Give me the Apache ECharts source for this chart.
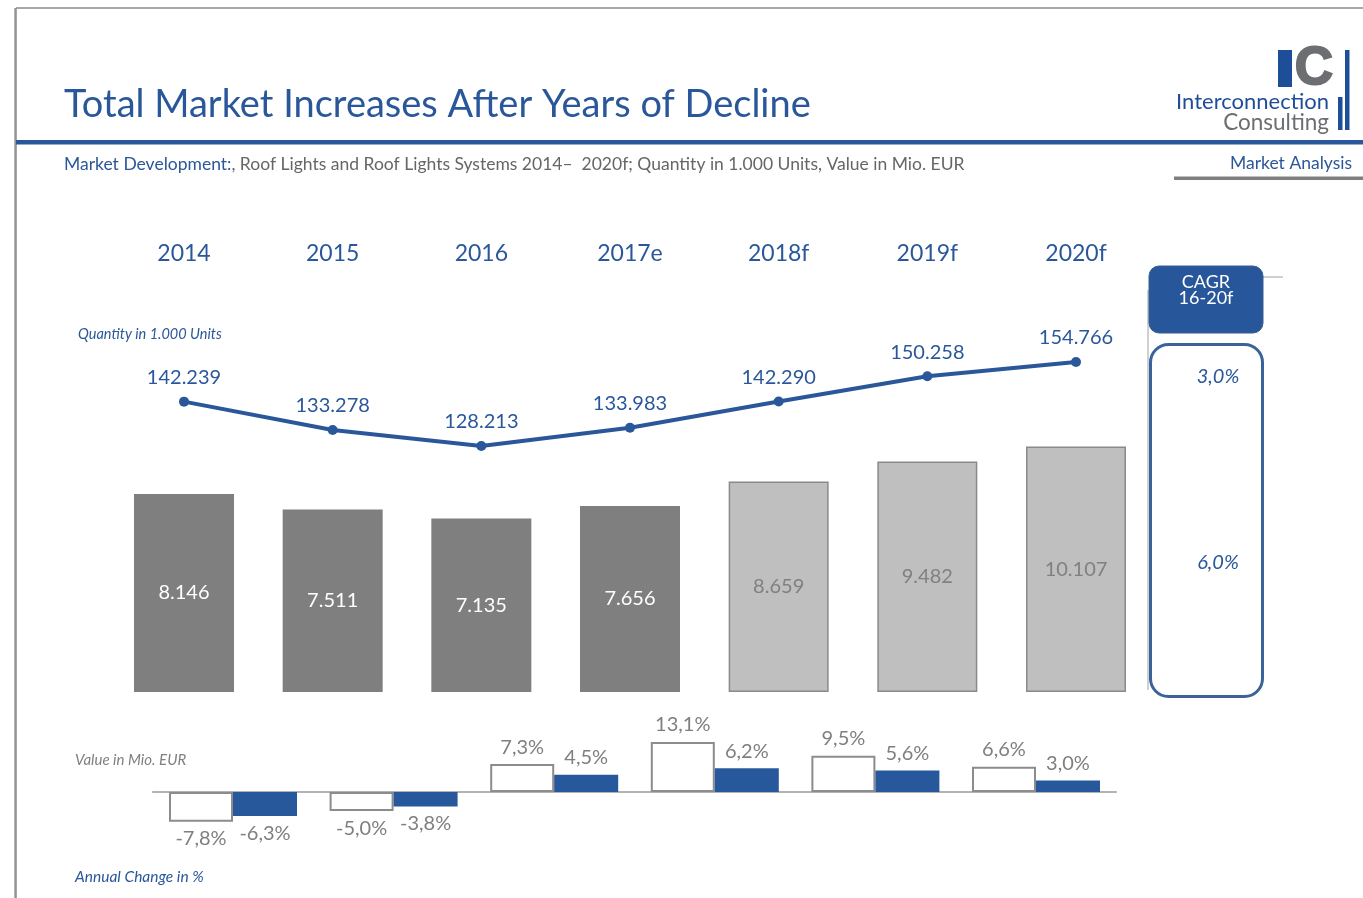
<!DOCTYPE html>
<html><head><meta charset="utf-8">
<script src="https://cdn.jsdelivr.net/npm/echarts@6/dist/echarts.min.js"></script>
<style>html,body{margin:0;padding:0;background:#fff;overflow:hidden}#c{width:1363px;height:898px}</style>
</head><body><div id="c"></div>
<script>
// ---- data ----
const years = ['2014', '2015', '2016', '2017e', '2018f', '2019f', '2020f'];
const valueMioEur = [8.146, 7.511, 7.135, 7.656, 8.659, 9.482, 10.107];
const quantityUnits = [142.239, 133.278, 128.213, 133.983, 142.290, 150.258, 154.766];
const firstForecastIndex = 4;
const changePeriods = ['2015', '2016', '2017e', '2018f', '2019f', '2020f'];
const valueChangePct = [-7.8, -5.0, 7.3, 13.1, 9.5, 6.6];
const quantityChangePct = [-6.3, -3.8, 4.5, 6.2, 5.6, 3.0];
const cagrQuantity = '3,0%';
const cagrValue = '6,0%';

// ---- style ----
const BLUE = '#2a579a';
const GRAY_TXT = '#7f7f7f';
const F = 'Lato';
const pct = v => v.toFixed(1).replace('.', ',') + '%';

const chart = echarts.init(document.getElementById('c'));

const barData = valueMioEur.map((v, i) => ({
  value: v,
  itemStyle: i >= firstForecastIndex
    ? { color: '#bfbfbf', borderColor: '#8a8a8a', borderWidth: 1.5 }
    : { color: '#7f7f7f' },
  label: { color: i >= firstForecastIndex ? '#808080' : '#ffffff' }
}));
const chgLabel = v => ({ value: v, label: { position: v < 0 ? 'bottom' : 'top' } });

chart.setOption({
  animation: false,
  title: [
    { text: 'Total Market Increases After Years of Decline', left: 59, top: 81,
      textStyle: { fontFamily: F, fontSize: 38, fontWeight: 'normal', color: BLUE } },
    { text: '{a|Market Development:}{b|, Roof Lights and Roof Lights Systems 2014–  2020f; Quantity in 1.000 Units, Value in Mio. EUR}',
      left: 59, top: 150,
      textStyle: { fontWeight: 'normal', rich: {
        a: { fontFamily: F, fontSize: 17.5, fontWeight: 'normal', color: BLUE },
        b: { fontFamily: F, fontSize: 17.5, fontWeight: 'normal', color: '#666666' } } } }
  ],
  grid: [
    { left: 109.67, right: 212.67, top: 351.8, height: 340.2 },
    { left: 109.67, right: 212.67, top: 298, height: 205.6 },
    { left: 152.7, right: 246.7, top: 734.7, height: 95.5 }
  ],
  xAxis: [
    { gridIndex: 0, type: 'category', data: years, show: false },
    { gridIndex: 1, type: 'category', data: years, position: 'top',
      axisLine: { show: false }, axisTick: { show: false }, splitLine: { show: false },
      axisLabel: { margin: 33, fontFamily: F, fontSize: 23, color: BLUE } },
    { gridIndex: 2, type: 'category', data: changePeriods,
      axisLine: { lineStyle: { color: '#9a9a9a', width: 1.5 } },
      axisTick: { show: false }, axisLabel: { show: false } }
  ],
  yAxis: [
    { gridIndex: 0, type: 'value', min: 0, max: 14, show: false },
    { gridIndex: 1, type: 'value', min: 110, max: 175, show: false },
    { gridIndex: 2, type: 'value', min: -10, max: 15, show: false }
  ],
  series: [
    { name: 'Value in Mio. EUR', type: 'bar', xAxisIndex: 0, yAxisIndex: 0, barWidth: 100,
      data: barData,
      label: { show: true, position: 'inside', fontFamily: F, fontSize: 20,
        formatter: p => p.value.toFixed(3) } },
    { name: 'Quantity in 1.000 Units', type: 'line', xAxisIndex: 1, yAxisIndex: 1,
      data: quantityUnits, symbol: 'circle', symbolSize: 10,
      lineStyle: { color: BLUE, width: 4 }, itemStyle: { color: BLUE },
      label: { show: true, position: 'top', distance: 9, fontFamily: F, fontSize: 20, color: BLUE,
        formatter: p => p.value.toFixed(3) } },
    { name: 'Value change', type: 'bar', xAxisIndex: 2, yAxisIndex: 2, barWidth: 64, barGap: '0%',
      data: valueChangePct.map(chgLabel),
      itemStyle: { color: '#ffffff', borderColor: '#8c8c8c', borderWidth: 2 },
      label: { show: true, distance: 7, fontFamily: F, fontSize: 20, color: GRAY_TXT,
        formatter: p => pct(p.value) } },
    { name: 'Quantity change', type: 'bar', xAxisIndex: 2, yAxisIndex: 2, barWidth: 64, barGap: '0%',
      data: quantityChangePct.map(chgLabel),
      itemStyle: { color: '#27589c' },
      label: { show: true, distance: 7, fontFamily: F, fontSize: 20, color: GRAY_TXT,
        formatter: p => pct(p.value) } }
  ],
  graphic: [
    // slide frame
    { type: 'rect', shape: { x: 14, y: 8, width: 2, height: 900 }, style: { fill: '#b5b5b5' } },
    { type: 'line', shape: { x1: 16, y1: 8, x2: 1363, y2: 8 }, style: { stroke: '#8a8a8a', lineWidth: 1.5 } },
    { type: 'line', shape: { x1: 16, y1: 8, x2: 16, y2: 898 }, style: { stroke: '#8a8a8a', lineWidth: 1.5 } },
    // header rule
    { type: 'rect', shape: { x: 16, y: 140, width: 1347, height: 4.5 }, style: { fill: BLUE } },
    { type: 'rect', shape: { x: 1174, y: 176.5, width: 189, height: 3.5 }, style: { fill: '#7f7f7f' } },
    { type: 'text', x: 1352, y: 163, style: { text: 'Market Analysis', fill: BLUE, font: '17.5px ' + F, textAlign: 'right', textVerticalAlign: 'middle' } },
    // logo
    { type: 'rect', shape: { x: 1278, y: 50, width: 14, height: 37 }, style: { fill: '#1f4e99' } },
    { type: 'text', x: 1314, y: 69, style: { text: 'C', fill: '#6d6e71', font: '900 53px "Liberation Sans"', textAlign: 'center', textVerticalAlign: 'middle', stroke: '#6d6e71', lineWidth: 2 } },
    { type: 'rect', shape: { x: 1345, y: 50, width: 4.5, height: 80 }, style: { fill: '#1f4e99' } },
    { type: 'rect', shape: { x: 1338, y: 97, width: 4.5, height: 33 }, style: { fill: '#1f4e99' } },
    { type: 'text', x: 1329, y: 102, style: { text: 'Interconnection', fill: '#1f4e99', font: '22px ' + F, textAlign: 'right', textVerticalAlign: 'middle' } },
    { type: 'text', x: 1329, y: 123, style: { text: 'Consulting', fill: '#6d6e71', font: '22.5px ' + F, textAlign: 'right', textVerticalAlign: 'middle' } },
    // axis captions
    { type: 'text', x: 78, y: 334, style: { text: 'Quantity in 1.000 Units', fill: BLUE, font: 'italic 14.5px ' + F, textVerticalAlign: 'middle' } },
    { type: 'text', x: 75, y: 760, style: { text: 'Value in Mio. EUR', fill: '#808080', font: 'italic 15px ' + F, textVerticalAlign: 'middle' } },
    { type: 'text', x: 75, y: 877, style: { text: 'Annual Change in %', fill: BLUE, font: 'italic 15.5px ' + F, textVerticalAlign: 'middle' } },
    // CAGR panel
    { type: 'line', shape: { x1: 1148, y1: 290, x2: 1148, y2: 690 }, style: { stroke: '#a0a0a0', lineWidth: 1 } },
    { type: 'line', shape: { x1: 1262, y1: 277, x2: 1283, y2: 277 }, style: { stroke: '#a0a0a0', lineWidth: 1 } },
    { type: 'rect', shape: { x: 1149, y: 266, width: 114, height: 67, r: 10 }, style: { fill: '#27569b', stroke: '#3b5f8f', lineWidth: 1 } },
    { type: 'text', x: 1206, y: 282, style: { text: 'CAGR', fill: '#ffffff', font: '18px ' + F, textAlign: 'center', textVerticalAlign: 'middle' } },
    { type: 'text', x: 1206, y: 298, style: { text: '16-20f', fill: '#ffffff', font: '18px ' + F, textAlign: 'center', textVerticalAlign: 'middle' } },
    { type: 'rect', shape: { x: 1150.5, y: 344.5, width: 112, height: 352, r: 18 }, style: { fill: '#ffffff', stroke: '#3a6399', lineWidth: 3 } },
    { type: 'text', x: 1218, y: 377, style: { text: cagrQuantity, fill: BLUE, font: 'italic 20px ' + F, textAlign: 'center', textVerticalAlign: 'middle' } },
    { type: 'text', x: 1218, y: 563, style: { text: cagrValue, fill: BLUE, font: 'italic 20px ' + F, textAlign: 'center', textVerticalAlign: 'middle' } }
  ]
});
</script></body></html>
